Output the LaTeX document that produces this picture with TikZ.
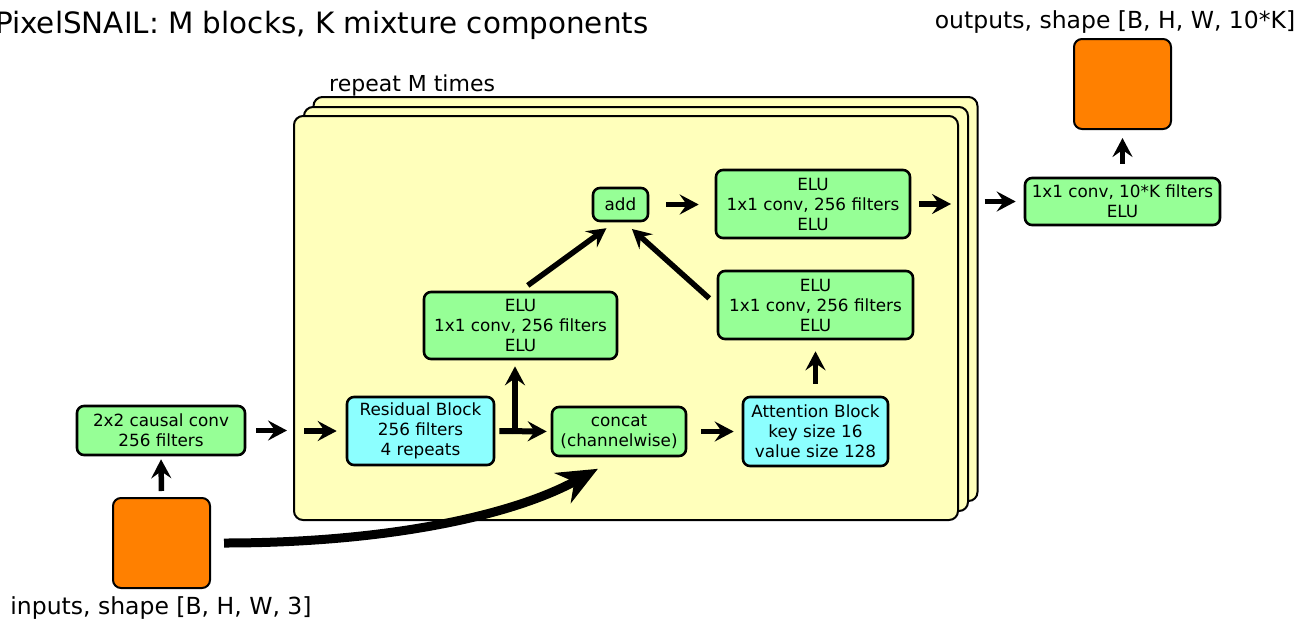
\documentclass[tikz,border=0pt]{standalone}
\usepackage{fontspec}
\setmainfont{DejaVu Sans}
\usetikzlibrary{arrows.meta}
\definecolor{stackyellow}{HTML}{FFFFBB}
\definecolor{boxgreen}{HTML}{96FF96}
\definecolor{boxcyan}{HTML}{8CFFFF}
\definecolor{tensororange}{HTML}{FF8000}
\begin{document}
\begin{tikzpicture}[x=1pt,y=-1pt,
  box/.style={draw=black, line width=2.6pt, rounded corners=7pt, inner sep=0pt,
    align=center, font=\fontsize{16.8}{20}\selectfont},
  greenbox/.style={box, fill=boxgreen},
  cyanbox/.style={box, fill=boxcyan},
  tensor/.style={draw=black, line width=2pt, rounded corners=8pt, fill=tensororange,
    minimum width=97pt, minimum height=90pt, inner sep=0pt},
  layer/.style={draw=black, line width=2pt, rounded corners=9pt, fill=stackyellow,
    minimum width=664pt, minimum height=404pt, inner sep=0pt},
  annot/.style={inner sep=0pt, font=\fontsize{23.5}{28}\selectfont},
  tiphead/.style={-{Stealth[length=19pt,width=20pt,inset=7pt]}},
  arr/.style={line width=5.5pt, tiphead},
  thickarr/.style={line width=6pt, tiphead},
  bigarr/.style={line width=9pt, -{Stealth[length=40pt,width=34pt,inset=13pt]}},
]
\useasboundingbox (0,0) rectangle (1307,622);

% titles and captions
\node[inner sep=0pt, anchor=base west, font=\fontsize{29.4}{34}\selectfont] (title) at (-5,33)
  {PixelSNAIL: M blocks, K mixture components};
\node[annot, anchor=base] (outlabel) at (1115,28) {outputs, shape [B, H, W, 10*K]};
\node[annot, anchor=base] (inlabel) at (161,614) {inputs, shape [B, H, W, 3]};
\node[inner sep=0pt, anchor=base west, font=\fontsize{22}{26}\selectfont] (repeatlabel)
  at (329,91) {repeat M times};

% stacked block, repeated M times
\node[layer] (back) at (645.5,299) {};
\node[layer] (mid) at (636,309) {};
\node[layer] (front) at (626,318) {};

% input and output tensors
\node[tensor] (in) at (161.5,543) {};
\node[tensor] (out) at (1122.5,84) {};

% layers
\node[greenbox, minimum width=168pt, minimum height=49pt] (conv0) at (161,430.5)
  {2x2 causal conv\\256 filters};
\node[cyanbox, minimum width=147pt, minimum height=68pt] (res) at (420.5,431)
  {Residual Block\\256 filters\\4 repeats};
\node[greenbox, minimum width=134pt, minimum height=49pt] (concat) at (619,431.5)
  {concat\\(channelwise)};
\node[cyanbox, minimum width=145pt, minimum height=69pt] (attn) at (815.5,431.5)
  {Attention Block\\key size 16\\value size 128};
\node[greenbox, minimum width=193pt, minimum height=67pt] (elu1) at (520.5,325.5)
  {ELU\\1x1 conv, 256 filters\\ELU};
\node[greenbox, minimum width=195pt, minimum height=68pt] (elu2) at (815.5,305)
  {ELU\\1x1 conv, 256 filters\\ELU};
\node[greenbox, minimum width=55pt, minimum height=33pt] (add) at (620.5,204.5) {add};
\node[greenbox, minimum width=194pt, minimum height=68pt] (elu3) at (813,204)
  {ELU\\1x1 conv, 256 filters\\ELU};
\node[greenbox, minimum width=195pt, minimum height=47pt] (outconv) at (1122.5,201.5)
  {1x1 conv, 10*K filters\\ELU};

% connectors
\coordinate (split) at (515,431);
\draw[arr, shorten <=6pt, shorten >=3pt] (in.north) -- (conv0.south);
\draw[arr, shorten <=10pt, shorten >=6pt] (conv0.east) -- (conv0.east -| front.west);
\draw[arr, shorten <=11pt, shorten >=9pt] (res.west -| front.west) -- (res.west);
\draw[thickarr, shorten <=4pt, shorten >=4pt] (res.east) -- (concat.west);
\draw[thickarr, shorten <=-3pt, shorten >=6pt] (split) -- (split |- elu1.south);
\draw[arr, shorten <=14pt, shorten >=8pt] (concat.east) -- (attn.west);
\draw[arr, shorten <=12pt, shorten >=11pt] (attn.north) -- (elu2.south);
\draw[arr, shorten <=9pt, shorten >=10pt] (elu1.north) -- ([xshift=-6pt]add.south);
\draw[arr, shorten <=10pt, shorten >=10pt] (elu2.west) -- ([xshift=4pt]add.south);
\draw[arr, shorten <=17pt, shorten >=16pt] (add.east) -- (add.east -| elu3.west);
\draw[arr, shorten <=8pt, shorten >=8pt] (elu3.east) -- (elu3.east -| front.east);
\draw[arr, shorten <=6pt, shorten >=8pt] (outconv.west -| back.east) -- (outconv.west);
\draw[arr, shorten <=13pt, shorten >=8pt] (outconv.north) -- (out.south);
\draw[bigarr, shorten <=13pt, shorten >=24pt] (in.east)
  .. controls +(170,0) and +(-110,60) .. (concat.south);
\end{tikzpicture}
\end{document}
